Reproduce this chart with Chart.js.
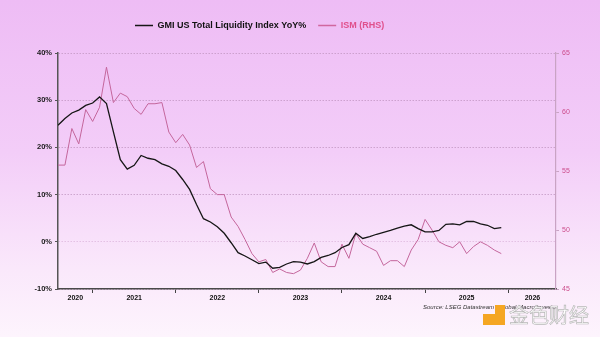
<!DOCTYPE html>
<html>
<head>
<meta charset="utf-8">
<script src="https://cdn.jsdelivr.net/npm/chart.js@4/dist/chart.umd.min.js"></script>
<style>
  body { margin: 0; }
  #wrap {
    position: relative; width: 600px; height: 337px; overflow: hidden;
    background: linear-gradient(to bottom, #eebcf5 0%, #f3cdf8 45%, #fae8fb 80%, #fdf4fd 100%);
  }
  #src {
    position: absolute; left: 423px; top: 304px;
    font: italic 6px "Liberation Sans", Arial, sans-serif; color: #333; white-space: nowrap;
  }
  .wm-part { position: absolute; background: #f5a623; }
  #wm-text {
    position: absolute; left: 509px; top: 300px;
    font: 20px "Noto Sans CJK SC", sans-serif; color: #fff;
    -webkit-text-stroke: 0.7px #b8b8b8; white-space: nowrap;
  }
</style>
</head>
<body>
<div id="wrap">
  <canvas id="chart" width="600" height="337"></canvas>
  <div id="src">Source: LSEG Datastream / Global Macro Investor</div>
  <div class="wm-part" style="left:483px; top:314px; width:22px; height:11px;"></div>
  <div class="wm-part" style="left:495px; top:305px; width:10px; height:10px;"></div>
  <div id="wm-text">金色财经</div>
</div>
<script>
// months counted from Jan 2020 = 0; first observation Aug 2020
const startMonth = 7;

const liquidityYoY = [
  24.7, 26.1, 27.3, 27.9, 28.9, 29.4, 30.7, 29.3, 23.3, 17.4, 15.4, 16.2, 18.3, 17.7, 17.4, 16.5,
  16.0, 15.1, 13.2, 11.1, 7.9, 4.9, 4.2, 3.2, 1.8, -0.2, -2.3, -3.0, -3.8, -4.6, -4.3, -5.6,
  -5.4, -4.7, -4.2, -4.3, -4.7, -4.2, -3.3, -2.9, -2.3, -1.2, -0.6, 1.8, 0.7, 1.1, 1.6, 2.0,
  2.4, 2.9, 3.3, 3.6, 2.8, 2.1, 2.1, 2.4, 3.7, 3.8, 3.6, 4.3, 4.3, 3.8, 3.5, 2.8, 3.0
];

const ismValues = [
  55.5, 55.5, 58.6, 57.3, 60.2, 59.2, 60.4, 63.8, 60.8, 61.6, 61.3, 60.3, 59.8, 60.7, 60.7, 60.8,
  58.3, 57.4, 58.1, 57.2, 55.3, 55.8, 53.5, 53.0, 53.0, 51.1, 50.3, 49.2, 48.0, 47.3, 47.5, 46.4,
  46.7, 46.4, 46.3, 46.6, 47.6, 48.9, 47.3, 46.9, 46.9, 48.8, 47.6, 49.7, 48.8, 48.5, 48.2, 47.0,
  47.4, 47.4, 46.9, 48.3, 49.2, 50.9, 50.0, 49.0, 48.7, 48.5, 49.0, 48.0, 48.6, 49.0, 48.7, 48.3, 48.0
];

// x axis: year boundaries get tick marks, year labels sit in the middle of each year
const yearLabels = ['2020', '2021', '2022', '2023', '2024', '2025', '2026'];
const yearLabelPos = [9.5, 18, 30, 42, 54, 66, 75.5];
const yearBoundaries = [12, 24, 36, 48, 60, 72];

const leftTicks = [-10, 0, 10, 20, 30, 40];
const rightTicks = [45, 50, 55, 60, 65];

const toPoints = vals => vals.map((v, i) => ({ x: startMonth + i, y: v }));

const sans = "'Liberation Sans', Arial, sans-serif";

// legend sits left of centre and higher than its reserved box
const placeLegend = {
  id: 'placeLegend',
  afterLayout(chart) {
    chart.legend.left = 123;
    chart.legend.top = 9;
  }
};

new Chart(document.getElementById('chart'), {
  type: 'line',
  data: {
    datasets: [{
      label: 'GMI US Total Liquidity Index YoY%',
      data: toPoints(liquidityYoY),
      borderColor: '#161616',
      backgroundColor: '#161616',
      borderWidth: 1.3,
      pointRadius: 0,
      yAxisID: 'y'
    }, {
      label: 'ISM (RHS)',
      data: toPoints(ismValues),
      borderColor: '#c4669c',
      backgroundColor: '#d0679f',
      borderWidth: 1,
      pointRadius: 0,
      yAxisID: 'y1'
    }]
  },
  options: {
    responsive: false,
    animation: false,
    devicePixelRatio: 1,
    layout: { padding: { top: 22, bottom: 26, left: 0, right: 0 } },
    plugins: {
      tooltip: { enabled: false },
      legend: {
        position: 'top',
        align: 'start',
        labels: {
          boxWidth: 18,
          boxHeight: 1.5,
          padding: 12,
          font: { family: sans, size: 9, weight: 'bold' },
          generateLabels(chart) {
            const items = Chart.defaults.plugins.legend.labels.generateLabels(chart);
            items.forEach((it, i) => {
              it.lineWidth = 0;
              it.fontColor = i === 0 ? '#111' : '#e0508c';
            });
            return items;
          }
        }
      }
    },
    scales: {
      x: {
        type: 'linear',
        min: 7,
        max: 78.9,
        afterBuildTicks(scale) {
          const vals = yearBoundaries.concat(yearLabelPos).sort((a, b) => a - b);
          scale.ticks = vals.map(v => ({ value: v }));
        },
        afterFit(scale) { scale.height = 22; },
        ticks: {
          autoSkip: false,
          maxRotation: 0,
          padding: 1,
          color: '#111',
          font: { family: sans, size: 7, weight: 'bold' },
          callback(value) {
            const i = yearLabelPos.indexOf(value);
            return i >= 0 ? yearLabels[i] : '';
          }
        },
        grid: {
          drawOnChartArea: false,
          tickLength: 4,
          tickWidth: 1,
          tickColor: ctx => (ctx.tick && yearBoundaries.includes(ctx.tick.value)) ? '#444' : 'rgba(0,0,0,0)'
        },
        border: { color: '#4a4a4a', width: 1.5 }
      },
      y: {
        position: 'left',
        min: -10,
        max: 40,
        afterBuildTicks(scale) { scale.ticks = leftTicks.map(v => ({ value: v })); },
        afterFit(scale) { scale.width = 58; },
        ticks: {
          padding: 3,
          color: '#1a1a1a',
          font: { family: sans, size: 7.5, weight: 'bold' },
          callback: v => v + '%'
        },
        grid: {
          color: ctx => ctx.tick && ctx.tick.value === 0 ? 'rgba(225,190,225,0.9)' : 'rgba(190,145,190,0.7)',
          lineWidth: 1,
          tickLength: 3,
          tickColor: '#555'
        },
        border: { color: '#555', width: 1.5, dash: [1.5, 1.5] }
      },
      y1: {
        position: 'right',
        min: 45,
        max: 65,
        afterBuildTicks(scale) { scale.ticks = rightTicks.map(v => ({ value: v })); },
        afterFit(scale) { scale.width = 44; },
        ticks: {
          padding: 3,
          color: '#cc4d8c',
          font: { family: sans, size: 7 }
        },
        grid: {
          drawOnChartArea: false,
          tickLength: 3,
          tickColor: '#c9a3c4'
        },
        border: { color: '#c9a3c4', width: 1.2 }
      }
    }
  },
  plugins: [placeLegend]
});
</script>
</body>
</html>
